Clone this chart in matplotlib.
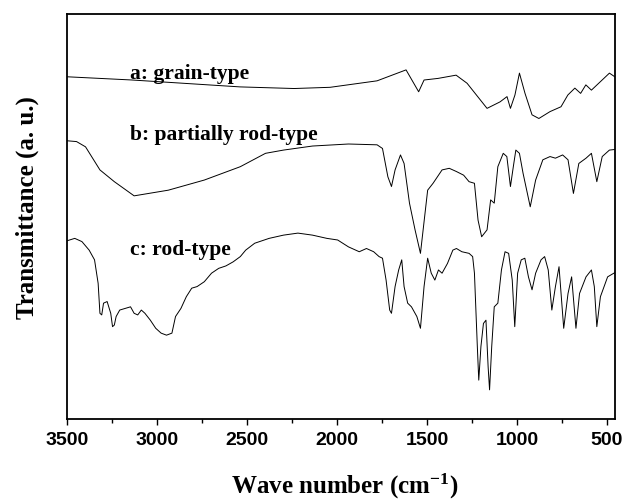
import matplotlib
matplotlib.use("Agg")
import matplotlib.pyplot as plt
from matplotlib.ticker import MultipleLocator

plt.rcParams["mathtext.fontset"] = "custom"
plt.rcParams["mathtext.rm"] = "Liberation Serif:bold"
plt.rcParams["mathtext.it"] = "Liberation Serif:bold"
plt.rcParams["mathtext.bf"] = "Liberation Serif:bold"

# FTIR spectra, offset for clarity (transmittance in arbitrary units)
wn_a = [3500, 3137, 2538, 2238, 2038, 1777, 1616, 1546, 1516, 1438, 1338, 1277, 1166, 1094, 1055, 1036,
        1011, 986, 955, 916, 878, 816, 755, 717, 678, 646, 617, 586, 536, 486, 456]
tr_a = [84.5, 83.7, 82.0, 81.6, 81.9, 83.5, 86.2, 80.8, 83.7, 84.1, 84.9, 82.9, 76.7, 78.3, 79.6, 76.7,
        80.0, 85.4, 80.4, 75.1, 74.2, 75.9, 77.1, 80.0, 81.7, 80.4, 82.5, 81.2, 83.3, 85.4, 84.5]

wn_b = [3500, 3447, 3397, 3317, 3237, 3127, 2937, 2737, 2537, 2397, 2297, 2136, 1936, 1777, 1747, 1717,
        1697, 1677, 1647, 1627, 1597, 1566, 1536, 1496, 1466, 1416, 1376, 1336, 1296, 1266, 1236, 1216,
        1196, 1166, 1146, 1126, 1106, 1076, 1056, 1036, 1020, 1006, 986, 966, 926, 896, 856, 816,
        786, 746, 716, 686, 656, 616, 586, 556, 526, 486, 446]
tr_b = [68.7, 68.5, 67.2, 61.5, 58.6, 55.1, 56.5, 59.0, 62.3, 65.6, 66.4, 67.4, 67.9, 67.7, 66.8, 59.8,
        57.4, 61.5, 65.2, 63.1, 53.3, 46.7, 40.9, 56.5, 58.2, 61.5, 61.9, 61.1, 60.2, 58.6, 58.2, 49.1,
        45.0, 46.7, 54.1, 53.3, 62.3, 65.6, 64.8, 57.4, 62.3, 66.4, 65.6, 60.7, 52.4, 59.0, 64.0, 64.8,
        64.4, 65.2, 64.0, 55.7, 63.1, 64.4, 65.6, 58.6, 64.8, 66.4, 66.6]

wn_c = [3500, 3457, 3417, 3377, 3347, 3327, 3317, 3307, 3297, 3277, 3257, 3247, 3237, 3227, 3207, 3177,
        3147, 3127, 3107, 3087, 3067, 3037, 3007, 2977, 2947, 2917, 2897, 2867, 2837, 2807, 2777, 2737,
        2697, 2657, 2617, 2577, 2537, 2507, 2457, 2377, 2297, 2217, 2136, 2056, 1996, 1936, 1876, 1836,
        1796, 1766, 1747, 1727, 1707, 1697, 1677, 1657, 1640, 1627, 1607, 1586, 1556, 1536, 1516, 1496,
        1476, 1456, 1436, 1416, 1386, 1356, 1336, 1306, 1266, 1246, 1236, 1220, 1212, 1200, 1186, 1172,
        1160, 1152, 1140, 1126, 1106, 1086, 1066, 1046, 1026, 1012, 996, 976, 956, 936, 916, 896,
        866, 846, 826, 806, 786, 766, 740, 716, 696, 672, 652, 616, 586, 570, 556, 536, 496, 446]
tr_c = [44.0, 44.6, 43.8, 41.7, 39.3, 33.5, 26.1, 25.7, 28.6, 29.0, 26.1, 22.8, 23.2, 25.3, 26.9, 27.3,
        27.7, 26.1, 25.7, 26.9, 26.1, 24.4, 22.4, 21.2, 20.7, 21.2, 25.3, 27.3, 30.2, 32.3, 32.7, 33.9,
        36.0, 37.2, 37.8, 38.8, 40.1, 41.7, 43.4, 44.6, 45.4, 45.9, 45.4, 44.6, 44.2, 42.5, 41.3, 42.1,
        41.3, 40.1, 39.7, 34.3, 26.9, 26.1, 32.7, 36.8, 39.3, 32.7, 28.6, 27.7, 25.3, 22.4, 32.7, 39.7,
        36.0, 34.3, 36.8, 36.0, 38.4, 41.7, 42.1, 41.3, 40.9, 40.1, 36.0, 17.9, 9.6, 17.9, 23.6, 24.4,
        12.9, 7.2, 17.9, 27.7, 28.6, 36.8, 41.3, 40.9, 34.3, 22.8, 36.0, 39.3, 39.7, 35.1, 31.9, 36.0,
        39.3, 40.1, 36.8, 26.9, 32.7, 37.6, 22.4, 31.0, 35.1, 22.4, 31.0, 35.1, 36.8, 32.7, 22.8, 30.2,
        35.1, 36.4]

labels = ["a: grain-type", "b: partially rod-type", "c: rod-type"]
label_y = [84.0, 68.9, 40.5]

fig = plt.figure(figsize=(6.24, 5.04), dpi=100)
ax = fig.add_axes([67 / 624, 85 / 504, 548 / 624, 405 / 504])

for wn, tr in [(wn_a, tr_a), (wn_b, tr_b), (wn_c, tr_c)]:
    ax.plot(wn, tr, color="black", lw=0.7)

serif = dict(family="Liberation Serif", weight="bold")
for lab, y in zip(labels, label_y):
    ax.text(3148, y, lab, ha="left", va="baseline", fontsize=15.5, **serif)

ax.set_xlim(3500, 455)
ax.set_ylim(0, 100)
ax.set_yticks([])
ax.xaxis.set_major_locator(MultipleLocator(500))
ax.xaxis.set_minor_locator(MultipleLocator(250))
ax.tick_params(axis="x", which="major", length=4.5, width=1.0, direction="out", pad=5)
ax.tick_params(axis="x", which="minor", length=3, width=1.0, direction="out")
for t in ax.get_xticklabels():
    t.set_fontfamily("Liberation Sans")
    t.set_fontweight("bold")
    t.set_fontsize(14)
for s in ax.spines.values():
    s.set_linewidth(1.3)

fig.text(345 / 624, 1 - 494 / 504, "Wave number (cm$^{-1}$)", ha="center", va="baseline",
         fontsize=18, **serif)
fig.text(27 / 624, 1 - 208 / 504, "Transmittance (a. u.)", ha="center", va="center",
         rotation=90, fontsize=18, **serif)

fig.savefig("out.png", dpi=100)
